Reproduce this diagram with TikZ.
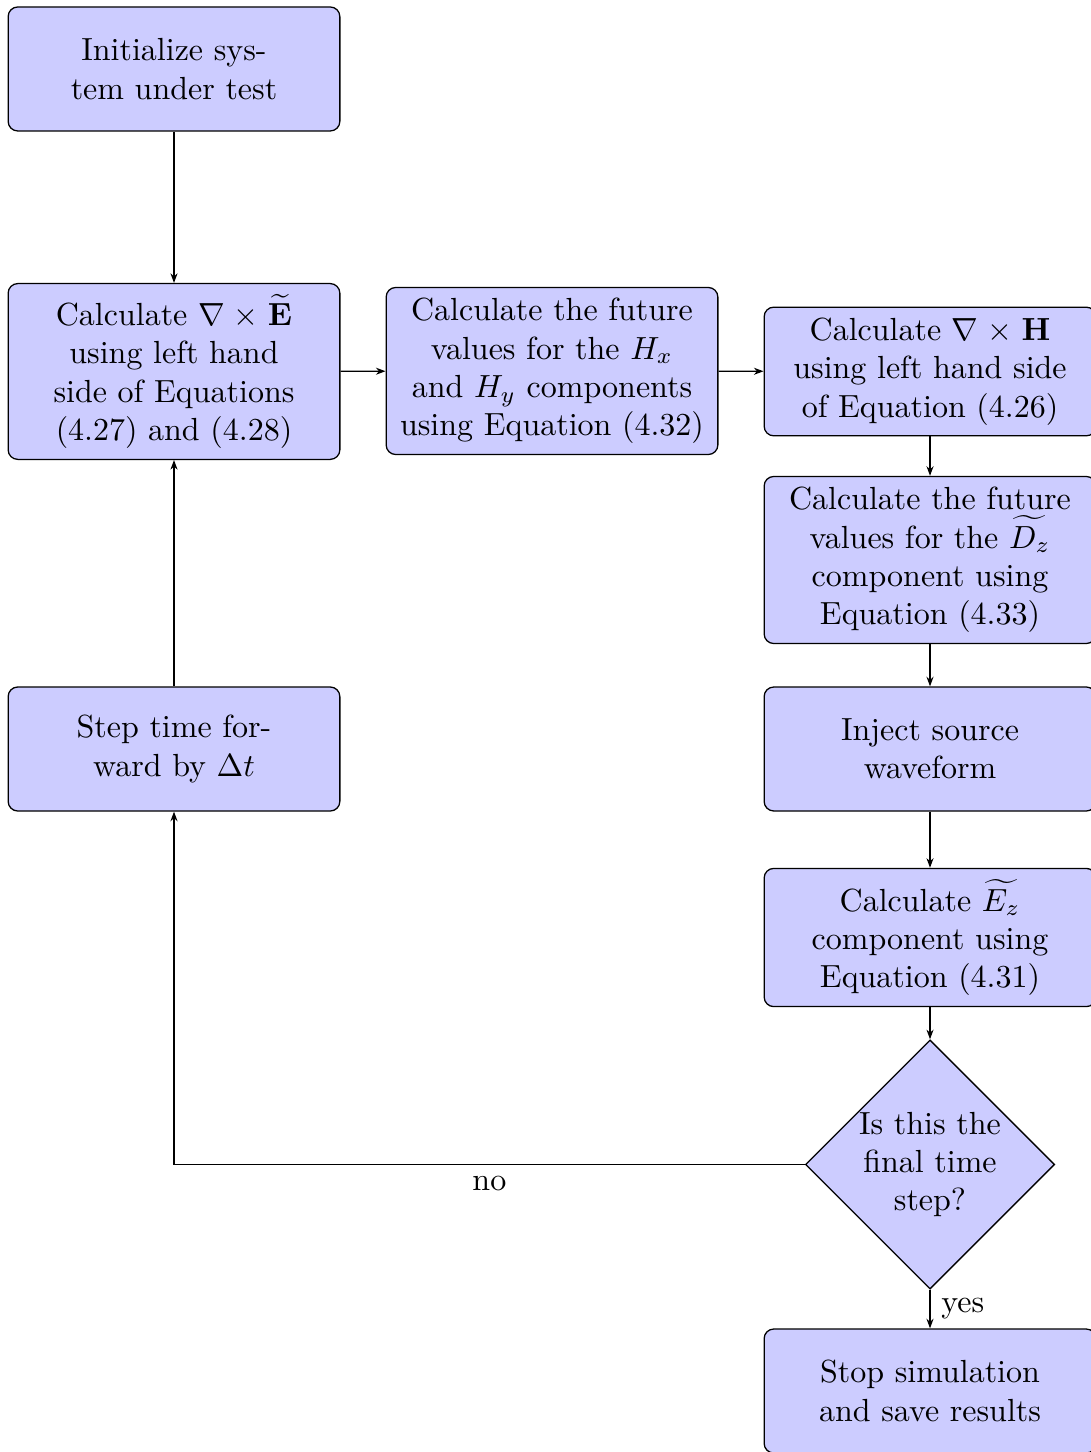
\documentclass[tikz,border=0pt]{standalone}
\usepackage{amsmath}
\usetikzlibrary{shapes.geometric,arrows.meta}
\begin{document}
\begin{tikzpicture}[x=0.3125pt,y=-0.3125pt,
  box/.style={draw, fill=blue!20, rounded corners=3pt, text width=97pt,
    minimum height=38.75pt, align=center, inner sep=3.33pt},
  dec/.style={draw, fill=blue!20, diamond, text width=45pt, align=center,
    inner sep=0pt, minimum width=77pt, minimum height=77pt},
  conn/.style={-{Stealth[length=3pt,width=2.2pt]}}]
\useasboundingbox (0,0) rectangle (1090,1452);
\node[box] (A) at (174,69) {Initialize sys-\\tem under test};
\node[box] (B) at (174,371.5) {Calculate $\nabla\times\widetilde{\mathbf{E}}$\\using left hand\\side of Equations\\(4.27) and (4.28)};
\node[box] (C) at (552,371) {Calculate the future\\values for the $H_x$\\and $H_y$ components\\using Equation (4.32)};
\node[box] (D) at (930,371.5) {Calculate $\nabla\times\mathbf{H}$\\using left hand side\\of Equation (4.26)};
\node[box] (E) at (930,560) {Calculate the future\\values for the $\widetilde{D_z}$\\component using\\Equation (4.33)};
\node[box] (F) at (930,749) {Inject source\\waveform};
\node[box] (G) at (930,937.5) {Calculate $\widetilde{E_z}$\\component using\\Equation (4.31)};
\node[dec] (Q) at (930,1164.5) {Is this the\\final time\\step?};
\node[box] (H) at (930,1391) {Stop simulation\\and save results};
\node[box] (I) at (174,749) {Step time for-\\ward by $\Delta t$};
\draw[conn] (A) -- (B);
\draw[conn] (B) -- (C);
\draw[conn] (C) -- (D);
\draw[conn] (D) -- (E);
\draw[conn] (E) -- (F);
\draw[conn] (F) -- (G);
\draw[conn] (G) -- (Q);
\draw[conn] (Q) -- node[midway,right] {yes} (H);
\draw[conn] (Q) -| node[pos=0.25,below] {no} (I);
\draw[conn] (I) -- (B);
\end{tikzpicture}
\end{document}
